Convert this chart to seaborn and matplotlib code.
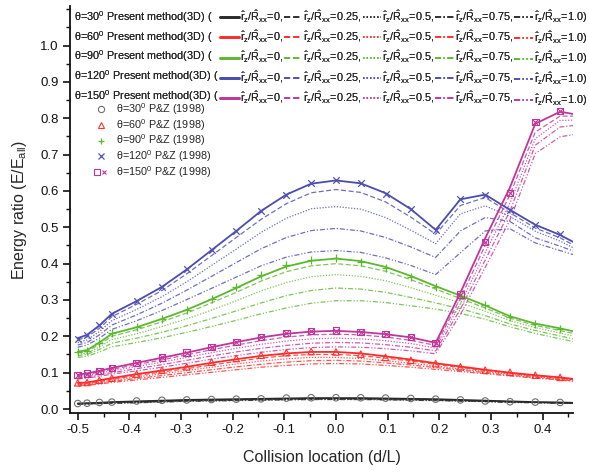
import matplotlib
matplotlib.use("Agg")
import matplotlib.pyplot as plt
import seaborn as sns
import pandas as pd
from matplotlib.lines import Line2D
from matplotlib.legend_handler import HandlerTuple
from matplotlib.ticker import MultipleLocator, FormatStrFormatter

# ---------------------------------------------------------------- data
# collision locations (d/L) of the computed curves
x_line = [-0.500, -0.482, -0.458, -0.434, -0.386, -0.337, -0.289, -0.241,
          -0.193, -0.145, -0.096, -0.048, 0.000, 0.048, 0.096, 0.145,
          0.193, 0.241, 0.289, 0.337, 0.386, 0.434, 0.459]
# collision locations of the P&Z (1998) results
x_pz = [-0.500, -0.482, -0.458, -0.434, -0.386, -0.337, -0.289, -0.241,
        -0.193, -0.145, -0.096, -0.048, 0.000, 0.048, 0.096, 0.145,
        0.193, 0.241, 0.289, 0.337, 0.386, 0.434]

angles = [30, 60, 90, 120, 150]
ratios = ["0", "0.25", "0.5", "0.75", "1.0"]

# present method (3D), one list per r_z/R_xx ratio
e30_r0 = [0.015, 0.016, 0.017, 0.019, 0.021, 0.023, 0.025, 0.026, 0.027, 0.028, 0.029, 0.030, 0.030, 0.030, 0.029, 0.028, 0.027, 0.025, 0.023, 0.021, 0.019, 0.018, 0.017]
e30_r25 = [0.015, 0.015, 0.016, 0.018, 0.020, 0.022, 0.024, 0.025, 0.026, 0.027, 0.028, 0.029, 0.029, 0.029, 0.028, 0.027, 0.026, 0.024, 0.022, 0.020, 0.019, 0.017, 0.017]
e30_r50 = [0.014, 0.015, 0.016, 0.017, 0.019, 0.021, 0.023, 0.024, 0.025, 0.026, 0.027, 0.028, 0.028, 0.028, 0.027, 0.026, 0.025, 0.023, 0.021, 0.020, 0.018, 0.017, 0.016]
e30_r75 = [0.014, 0.014, 0.015, 0.016, 0.018, 0.020, 0.022, 0.023, 0.024, 0.025, 0.026, 0.027, 0.027, 0.027, 0.026, 0.025, 0.024, 0.022, 0.021, 0.019, 0.018, 0.016, 0.016]
e30_r100 = [0.013, 0.014, 0.015, 0.016, 0.017, 0.019, 0.021, 0.022, 0.023, 0.024, 0.025, 0.026, 0.026, 0.026, 0.025, 0.024, 0.023, 0.022, 0.020, 0.018, 0.017, 0.016, 0.015]

e60_r0 = [0.072, 0.073, 0.079, 0.085, 0.096, 0.106, 0.116, 0.127, 0.137, 0.146, 0.153, 0.157, 0.157, 0.153, 0.145, 0.136, 0.126, 0.117, 0.108, 0.100, 0.093, 0.087, 0.083]
e60_r25 = [0.070, 0.071, 0.076, 0.082, 0.092, 0.102, 0.111, 0.121, 0.131, 0.140, 0.147, 0.150, 0.150, 0.147, 0.140, 0.132, 0.123, 0.114, 0.106, 0.098, 0.091, 0.085, 0.081]
e60_r50 = [0.068, 0.069, 0.074, 0.079, 0.088, 0.097, 0.106, 0.115, 0.124, 0.132, 0.138, 0.142, 0.142, 0.139, 0.133, 0.126, 0.118, 0.110, 0.103, 0.096, 0.089, 0.083, 0.080]
e60_r75 = [0.066, 0.067, 0.071, 0.076, 0.084, 0.092, 0.100, 0.108, 0.116, 0.123, 0.129, 0.133, 0.134, 0.132, 0.127, 0.121, 0.114, 0.107, 0.100, 0.093, 0.087, 0.081, 0.078]
e60_r100 = [0.064, 0.065, 0.069, 0.073, 0.080, 0.087, 0.094, 0.101, 0.108, 0.115, 0.120, 0.124, 0.125, 0.124, 0.120, 0.115, 0.109, 0.103, 0.097, 0.091, 0.085, 0.080, 0.076]

e90_r0 = [0.158, 0.162, 0.183, 0.207, 0.225, 0.248, 0.273, 0.302, 0.333, 0.365, 0.392, 0.408, 0.414, 0.407, 0.391, 0.366, 0.338, 0.312, 0.285, 0.255, 0.235, 0.222, 0.214]
e90_r25 = [0.155, 0.158, 0.178, 0.200, 0.218, 0.240, 0.264, 0.292, 0.321, 0.352, 0.378, 0.394, 0.400, 0.394, 0.379, 0.356, 0.330, 0.304, 0.278, 0.250, 0.230, 0.216, 0.208]
e90_r50 = [0.151, 0.154, 0.171, 0.191, 0.207, 0.227, 0.248, 0.272, 0.298, 0.325, 0.348, 0.364, 0.370, 0.365, 0.353, 0.334, 0.313, 0.292, 0.269, 0.243, 0.224, 0.209, 0.201]
e90_r75 = [0.147, 0.150, 0.164, 0.181, 0.195, 0.211, 0.229, 0.249, 0.270, 0.292, 0.312, 0.326, 0.333, 0.330, 0.321, 0.307, 0.292, 0.276, 0.257, 0.234, 0.216, 0.201, 0.193]
e90_r100 = [0.142, 0.145, 0.157, 0.171, 0.183, 0.196, 0.211, 0.227, 0.244, 0.262, 0.278, 0.291, 0.298, 0.298, 0.293, 0.284, 0.275, 0.263, 0.247, 0.226, 0.208, 0.193, 0.186]

e120_r0 = [0.195, 0.204, 0.230, 0.262, 0.297, 0.336, 0.384, 0.437, 0.490, 0.545, 0.590, 0.620, 0.629, 0.621, 0.594, 0.550, 0.493, 0.577, 0.590, 0.548, 0.507, 0.479, 0.460]
e120_r25 = [0.190, 0.198, 0.222, 0.254, 0.288, 0.326, 0.372, 0.422, 0.472, 0.522, 0.565, 0.595, 0.604, 0.596, 0.570, 0.528, 0.481, 0.560, 0.582, 0.540, 0.498, 0.471, 0.452]
e120_r50 = [0.183, 0.190, 0.213, 0.243, 0.274, 0.309, 0.350, 0.395, 0.440, 0.486, 0.525, 0.551, 0.557, 0.550, 0.527, 0.492, 0.455, 0.537, 0.559, 0.530, 0.489, 0.462, 0.444]
e120_r75 = [0.176, 0.183, 0.204, 0.231, 0.259, 0.291, 0.327, 0.365, 0.403, 0.441, 0.472, 0.491, 0.497, 0.490, 0.472, 0.446, 0.417, 0.490, 0.527, 0.516, 0.471, 0.448, 0.435]
e120_r100 = [0.170, 0.176, 0.195, 0.219, 0.243, 0.271, 0.301, 0.332, 0.363, 0.394, 0.418, 0.432, 0.436, 0.431, 0.416, 0.395, 0.370, 0.430, 0.490, 0.496, 0.457, 0.436, 0.425]

e150_r0 = [0.094, 0.098, 0.105, 0.113, 0.127, 0.141, 0.155, 0.170, 0.184, 0.197, 0.207, 0.213, 0.215, 0.212, 0.206, 0.197, 0.182, 0.320, 0.470, 0.610, 0.785, 0.818, 0.812]
e150_r25 = [0.092, 0.095, 0.102, 0.109, 0.122, 0.135, 0.149, 0.163, 0.176, 0.188, 0.198, 0.204, 0.206, 0.204, 0.198, 0.189, 0.175, 0.305, 0.450, 0.590, 0.762, 0.806, 0.806]
e150_r50 = [0.089, 0.092, 0.098, 0.105, 0.117, 0.129, 0.142, 0.155, 0.167, 0.178, 0.187, 0.193, 0.195, 0.193, 0.188, 0.180, 0.168, 0.290, 0.430, 0.567, 0.744, 0.794, 0.795]
e150_r75 = [0.086, 0.089, 0.094, 0.100, 0.111, 0.122, 0.134, 0.146, 0.157, 0.167, 0.175, 0.181, 0.183, 0.182, 0.177, 0.170, 0.160, 0.275, 0.410, 0.545, 0.726, 0.776, 0.780]
e150_r100 = [0.083, 0.085, 0.090, 0.096, 0.105, 0.115, 0.126, 0.137, 0.147, 0.156, 0.164, 0.169, 0.171, 0.170, 0.166, 0.160, 0.152, 0.260, 0.390, 0.520, 0.703, 0.749, 0.755]

# P&Z (1998)
pz30 = [0.015, 0.016, 0.018, 0.019, 0.022, 0.024, 0.025, 0.026, 0.027, 0.028, 0.030, 0.031, 0.031, 0.031, 0.030, 0.029, 0.027, 0.025, 0.022, 0.020, 0.019, 0.018]
pz60 = [0.072, 0.073, 0.079, 0.085, 0.096, 0.107, 0.116, 0.129, 0.139, 0.148, 0.155, 0.158, 0.157, 0.151, 0.142, 0.134, 0.125, 0.116, 0.107, 0.101, 0.093, 0.087]
pz90 = [0.157, 0.160, 0.182, 0.208, 0.225, 0.248, 0.273, 0.303, 0.335, 0.370, 0.395, 0.410, 0.415, 0.405, 0.388, 0.362, 0.335, 0.312, 0.285, 0.253, 0.235, 0.221]
pz120 = [0.194, 0.203, 0.230, 0.262, 0.297, 0.335, 0.385, 0.437, 0.490, 0.545, 0.590, 0.621, 0.629, 0.621, 0.593, 0.550, 0.492, 0.577, 0.589, 0.547, 0.507, 0.481]
pz150 = [0.093, 0.097, 0.105, 0.113, 0.127, 0.142, 0.155, 0.171, 0.184, 0.198, 0.209, 0.214, 0.216, 0.212, 0.207, 0.198, 0.182, 0.315, 0.460, 0.595, 0.790, 0.820]

present = {
    30: [e30_r0, e30_r25, e30_r50, e30_r75, e30_r100],
    60: [e60_r0, e60_r25, e60_r50, e60_r75, e60_r100],
    90: [e90_r0, e90_r25, e90_r50, e90_r75, e90_r100],
    120: [e120_r0, e120_r25, e120_r50, e120_r75, e120_r100],
    150: [e150_r0, e150_r25, e150_r50, e150_r75, e150_r100],
}
pz = {30: pz30, 60: pz60, 90: pz90, 120: pz120, 150: pz150}

# ---------------------------------------------------------------- style
sns.set_style("ticks")
plt.rcParams["font.family"] = ["Liberation Sans", "DejaVu Sans"]
plt.rcParams["mathtext.default"] = "regular"

colors = {30: "#2a2a2a", 60: "#ff2a2a", 90: "#5cb82e", 120: "#4b4bb0", 150: "#c0359a"}
marker_colors = {30: "#707070", 60: "#ff3030", 90: "#5cb82e", 120: "#5050b8", 150: "#c0359a"}
line_styles = ["-", (0, (4, 2)), (0, (1, 1.3)), (0, (4, 1.5, 1, 1.5)), (0, (4, 1.5, 1, 1.5, 1, 1.5))]
line_widths = [1.3, 0.9, 0.9, 0.9, 0.9]

fig = plt.figure(figsize=(5.89, 4.72), dpi=100)
ax = fig.add_axes([70 / 589, 59 / 472, 503 / 589, 407 / 472])

rows = []
for a in angles:
    for r, ys in zip(ratios, present[a]):
        for xv, yv in zip(x_line, ys):
            rows.append({"angle": a, "ratio": r, "x": xv, "y": yv})
df = pd.DataFrame(rows)

# computed curves: draw dashed ones first, solid on top
for k in [4, 3, 2, 1, 0]:
    for a in angles:
        sub = df[(df["angle"] == a) & (df["ratio"] == ratios[k])]
        sns.lineplot(data=sub, x="x", y="y", ax=ax, color=colors[a],
                     linestyle=line_styles[k], linewidth=line_widths[k],
                     errorbar=None, sort=False, legend=False,
                     alpha=1.0 if k == 0 else 0.8, zorder=3 if k == 0 else 2)

# P&Z (1998) symbols
ms = 22
sns.scatterplot(x=x_pz, y=pz[30], ax=ax, marker="o", s=ms, fc="none",
                ec=marker_colors[30], linewidth=0.8, zorder=4)
sns.scatterplot(x=x_pz, y=pz[60], ax=ax, marker="^", s=ms, fc="none",
                ec=marker_colors[60], linewidth=0.8, zorder=4)
sns.scatterplot(x=x_pz, y=pz[90], ax=ax, marker="+", s=ms + 6,
                color=marker_colors[90], linewidth=0.9, zorder=4)
sns.scatterplot(x=x_pz, y=pz[120], ax=ax, marker="x", s=ms,
                color=marker_colors[120], linewidth=0.9, zorder=4)
sns.scatterplot(x=x_pz, y=pz[150], ax=ax, marker="s", s=ms, fc="none",
                ec=marker_colors[150], linewidth=0.8, zorder=4)
sns.scatterplot(x=x_pz, y=pz[150], ax=ax, marker="x", s=ms - 6,
                color=marker_colors[150], linewidth=0.8, zorder=4)

# ---------------------------------------------------------------- axes
ax.set_xlim(-0.515, 0.459)
ax.set_ylim(-0.011, 1.109)
ax.xaxis.set_minor_locator(MultipleLocator(0.05))
ax.yaxis.set_minor_locator(MultipleLocator(0.05))
ax.set_xticks([-0.5, -0.4, -0.3, -0.2, -0.1, 0.0, 0.1, 0.2, 0.3, 0.4])
ax.set_yticks([0.0, 0.1, 0.2, 0.3, 0.4, 0.5, 0.6, 0.7, 0.8, 0.9, 1.0])
ax.xaxis.set_major_formatter(FormatStrFormatter("%.1f"))
ax.yaxis.set_major_formatter(FormatStrFormatter("%.1f"))
sns.despine(ax=ax)
for s in ["left", "bottom"]:
    ax.spines[s].set_linewidth(1.3)
    ax.spines[s].set_color("#111111")
ax.tick_params(which="major", direction="out", length=5, width=1.2,
               labelsize=9.5, colors="#111111", pad=3)
ax.tick_params(which="minor", direction="out", length=3, width=1.0, colors="#111111")
ax.set_xlabel("Collision location (d/L)", fontsize=11.5, labelpad=10)
ax.set_ylabel("Energy ratio (E/E$_{all}$)", fontsize=11.5, labelpad=8)

# ---------------------------------------------------------------- legends
blank = Line2D([], [], color="none")
handles, labels = [], []
for a in angles:
    handles.append(blank)
    labels.append(f"θ={a}$^0$ Present method(3D) (")
for k, r in enumerate(ratios):
    for a in angles:
        handles.append(Line2D([], [], color=colors[a], linestyle=line_styles[k],
                              linewidth=line_widths[k] + (0.6 if k == 0 else 0.2)))
        tail = ")" if k == len(ratios) - 1 else ","
        labels.append(r"$\hat{r}_z/\hat{R}_{xx}$=" + r + tail)

leg1 = fig.legend(handles, labels, ncol=6, loc="upper right",
                  bbox_to_anchor=(587 / 589, 1 - 8 / 472),
                  bbox_transform=fig.transFigure, frameon=False,
                  fontsize=7.8, handlelength=1.7, handletextpad=0.1,
                  columnspacing=0.1, labelspacing=0.36, borderpad=0,
                  borderaxespad=0)

pz_handles = [
    Line2D([], [], linestyle="none", marker="o", mfc="none", mec=marker_colors[30], ms=4.5, mew=0.8),
    Line2D([], [], linestyle="none", marker="^", mfc="none", mec=marker_colors[60], ms=4.5, mew=0.8),
    Line2D([], [], linestyle="none", marker="+", color=marker_colors[90], ms=5, mew=0.9),
    Line2D([], [], linestyle="none", marker="x", color=marker_colors[120], ms=4.5, mew=0.9),
    (Line2D([], [], linestyle="none", marker="s", mfc="none", mec=marker_colors[150], ms=4.5, mew=0.8),
     Line2D([], [], linestyle="none", marker="x", color=marker_colors[150], ms=3.5, mew=0.8)),
]
pz_labels = [f"θ={a}$^0$ P&Z (1998)" for a in angles]
leg2 = ax.legend(pz_handles, pz_labels, loc="upper left",
                 bbox_to_anchor=(94 / 589, 1 - 101 / 472),
                 bbox_transform=fig.transFigure, frameon=False, fontsize=7.8,
                 handlelength=1.2, handletextpad=0.8, labelspacing=0.0,
                 borderpad=0, borderaxespad=0,
                 handler_map={tuple: HandlerTuple(ndivide=None, pad=0)})
fig.add_artist(leg1)

fig.savefig("out.png", dpi=100)
